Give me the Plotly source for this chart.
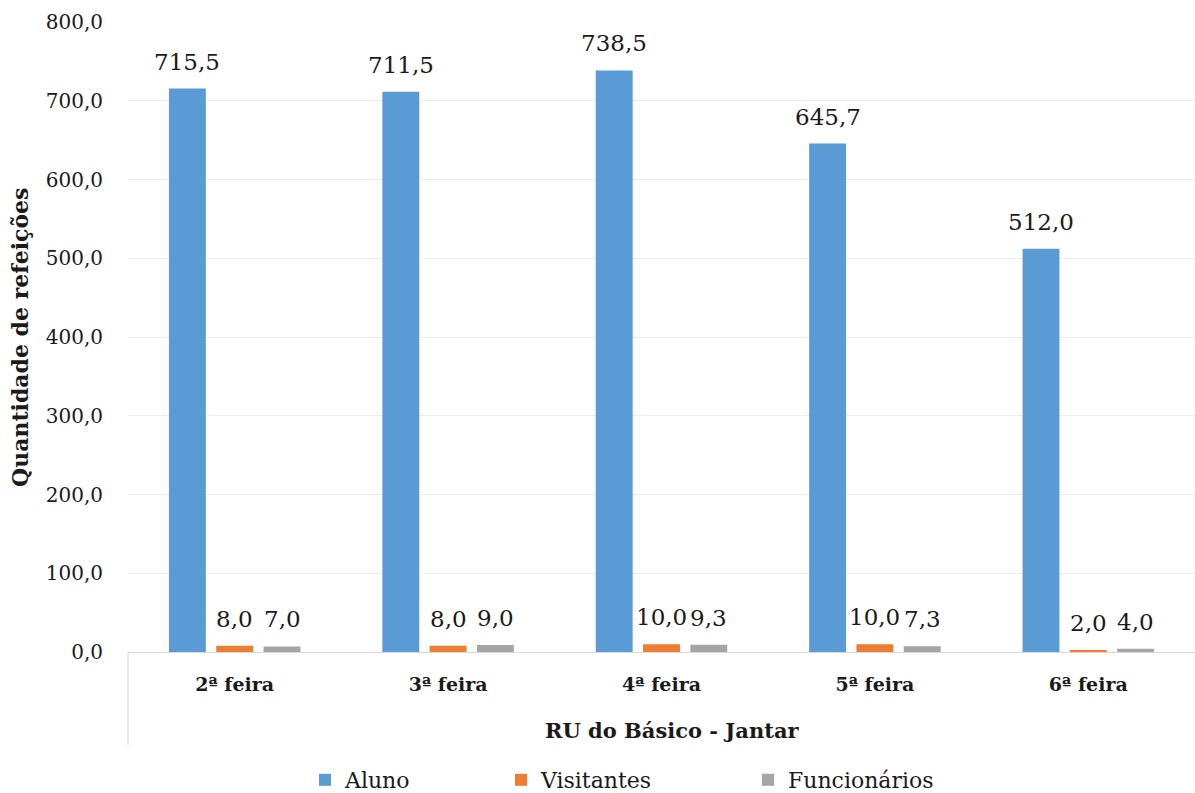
import plotly.graph_objects as go

# Refeições servidas no jantar do RU do Básico, por dia da semana
dias = ["2ª feira", "3ª feira", "4ª feira", "5ª feira", "6ª feira"]
aluno = [715.5, 711.5, 738.5, 645.7, 512.0]
visitantes = [8.0, 8.0, 10.0, 10.0, 2.0]
funcionarios = [7.0, 9.0, 9.3, 7.3, 4.0]
y_ticks = [0, 100, 200, 300, 400, 500, 600, 700, 800]

series = [
    ("Aluno", aluno, "#5B9BD5", "legend"),
    ("Visitantes", visitantes, "#ED7D31", "legend2"),
    ("Funcionários", funcionarios, "#A5A5A5", "legend3"),
]

FONT = "DejaVu Serif"
TXT = "#1a1a1a"
BARGAP = 0.335
GROUPGAP = 0.22
W, H = 1195, 793
ML, MT, MB = 128, 22, 141
PH = H - MT - MB

fig = go.Figure()
for nome, vals, cor, leg in series:
    fig.add_trace(go.Bar(
        name=nome, x=list(range(len(dias))), y=vals,
        marker=dict(color=cor, line=dict(width=0)),
        legend=leg,
    ))

# rótulos de valor acima de cada barra
slot = (1 - BARGAP) / len(series)
for k, (nome, vals, cor, leg) in enumerate(series):
    off = (k - (len(series) - 1) / 2) * slot
    for i, v in enumerate(vals):
        fig.add_annotation(
            x=i + off, y=v, xref="x", yref="y",
            text=f"{v:.1f}".replace(".", ","),
            showarrow=False, yanchor="bottom", yshift=12,
            font=dict(family=FONT, size=23, color=TXT),
        )

# título do eixo Y
fig.add_annotation(
    x=-(ML - 20) / (W - ML), y=0.5, xref="paper", yref="paper",
    xanchor="center", yanchor="middle",
    text="<b>Quantidade de refeições</b>", textangle=-90,
    showarrow=False, font=dict(family=FONT, size=22, color=TXT),
)
# rótulo do agrupamento no eixo X
fig.add_annotation(
    x=0.5, y=-78 / PH, xref="paper", yref="paper", xshift=10,
    xanchor="center", yanchor="middle",
    text="<b>RU do Básico - Jantar</b>",
    showarrow=False, font=dict(family=FONT, size=21, color=TXT),
)
# divisória do eixo de categorias em dois níveis
fig.add_shape(type="line", xref="paper", yref="paper",
              x0=0, x1=0, y0=0, y1=-93 / PH,
              line=dict(color="#d9d9d9", width=1))

legend_common = dict(
    orientation="h", yref="container", yanchor="middle", y=(H - 780) / H,
    xanchor="left",
    font=dict(family=FONT, size=22, color=TXT), bgcolor="rgba(0,0,0,0)",
    itemwidth=30,
)

fig.update_layout(
    width=W, height=H,
    margin=dict(l=ML, r=0, t=MT, b=MB, autoexpand=False),
    paper_bgcolor="white", plot_bgcolor="white",
    separators=",.",
    barmode="group", bargap=BARGAP, bargroupgap=GROUPGAP,
    font=dict(family=FONT, color=TXT),
    showlegend=True,
    legend=dict(x=(305 - ML) / (W - ML), **legend_common),
    legend2=dict(x=(501 - ML) / (W - ML), **legend_common),
    legend3=dict(x=(748 - ML) / (W - ML), **legend_common),
    xaxis=dict(
        range=[-0.5, len(dias) - 0.5],
        tickmode="array", tickvals=list(range(len(dias))),
        ticktext=[f"<b>{d}</b>" for d in dias],
        tickfont=dict(family=FONT, size=19, color=TXT),
        showgrid=False, zeroline=False, automargin=False,
        showline=True, linecolor="#d9d9d9", linewidth=1,
        ticks="", ticklabelstandoff=15,
    ),
    yaxis=dict(
        range=[0, 800], tickmode="array", tickvals=y_ticks,
        tickformat=".1f", automargin=False,
        tickfont=dict(family=FONT, size=20, color=TXT),
        showgrid=True, gridcolor="#ececec", gridwidth=1,
        zeroline=False, showline=False, ticks="",
        ticklabelstandoff=24,
    ),
)

fig.write_html("out.html")
